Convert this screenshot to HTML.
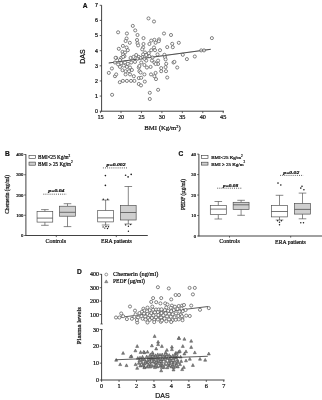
<!DOCTYPE html><html><head><meta charset="utf-8"><title>Figure</title>
<style>html,body{margin:0;padding:0;background:#fff;}body{width:322px;height:400px;overflow:hidden;}svg{display:block;filter:grayscale(1);}text{font-family:"Liberation Serif",serif;fill:#111;stroke:#111;stroke-width:0.22px;}.ss{font-family:"Liberation Sans",sans-serif;}</style></head><body>
<svg width="322" height="400" viewBox="0 0 322 400">
<rect width="322" height="400" fill="#fff"/>
<text x="82.70" y="7.90" font-size="6.60" text-anchor="start" class="ss" font-weight="bold" font-style="normal" fill="#111">A</text>
<line x1="101.60" y1="5.20" x2="101.60" y2="111.55" stroke="#383838" stroke-width="0.95" />
<line x1="101.30" y1="111.20" x2="224.00" y2="111.20" stroke="#383838" stroke-width="0.95" />
<line x1="99.70" y1="111.20" x2="101.60" y2="111.20" stroke="#383838" stroke-width="0.80" />
<text x="97.90" y="113.05" font-size="5.30" text-anchor="end" class="ss" font-weight="normal" font-style="normal" >0</text>
<line x1="99.70" y1="96.07" x2="101.60" y2="96.07" stroke="#383838" stroke-width="0.80" />
<text x="97.90" y="97.92" font-size="5.30" text-anchor="end" class="ss" font-weight="normal" font-style="normal" >1</text>
<line x1="99.70" y1="80.94" x2="101.60" y2="80.94" stroke="#383838" stroke-width="0.80" />
<text x="97.90" y="82.79" font-size="5.30" text-anchor="end" class="ss" font-weight="normal" font-style="normal" >2</text>
<line x1="99.70" y1="65.81" x2="101.60" y2="65.81" stroke="#383838" stroke-width="0.80" />
<text x="97.90" y="67.66" font-size="5.30" text-anchor="end" class="ss" font-weight="normal" font-style="normal" >3</text>
<line x1="99.70" y1="50.68" x2="101.60" y2="50.68" stroke="#383838" stroke-width="0.80" />
<text x="97.90" y="52.53" font-size="5.30" text-anchor="end" class="ss" font-weight="normal" font-style="normal" >4</text>
<line x1="99.70" y1="35.55" x2="101.60" y2="35.55" stroke="#383838" stroke-width="0.80" />
<text x="97.90" y="37.40" font-size="5.30" text-anchor="end" class="ss" font-weight="normal" font-style="normal" >5</text>
<line x1="99.70" y1="20.42" x2="101.60" y2="20.42" stroke="#383838" stroke-width="0.80" />
<text x="97.90" y="22.27" font-size="5.30" text-anchor="end" class="ss" font-weight="normal" font-style="normal" >6</text>
<line x1="99.70" y1="5.29" x2="101.60" y2="5.29" stroke="#383838" stroke-width="0.80" />
<text x="97.90" y="7.14" font-size="5.30" text-anchor="end" class="ss" font-weight="normal" font-style="normal" >7</text>
<line x1="100.60" y1="111.20" x2="100.60" y2="113.10" stroke="#383838" stroke-width="0.80" />
<text x="100.60" y="119.30" font-size="6.20" text-anchor="middle" class="" font-weight="normal" font-style="normal" >15</text>
<line x1="121.03" y1="111.20" x2="121.03" y2="113.10" stroke="#383838" stroke-width="0.80" />
<text x="121.03" y="119.30" font-size="6.20" text-anchor="middle" class="" font-weight="normal" font-style="normal" >20</text>
<line x1="141.47" y1="111.20" x2="141.47" y2="113.10" stroke="#383838" stroke-width="0.80" />
<text x="141.47" y="119.30" font-size="6.20" text-anchor="middle" class="" font-weight="normal" font-style="normal" >25</text>
<line x1="161.90" y1="111.20" x2="161.90" y2="113.10" stroke="#383838" stroke-width="0.80" />
<text x="161.90" y="119.30" font-size="6.20" text-anchor="middle" class="" font-weight="normal" font-style="normal" >30</text>
<line x1="182.34" y1="111.20" x2="182.34" y2="113.10" stroke="#383838" stroke-width="0.80" />
<text x="182.34" y="119.30" font-size="6.20" text-anchor="middle" class="" font-weight="normal" font-style="normal" >35</text>
<line x1="202.77" y1="111.20" x2="202.77" y2="113.10" stroke="#383838" stroke-width="0.80" />
<text x="202.77" y="119.30" font-size="6.20" text-anchor="middle" class="" font-weight="normal" font-style="normal" >40</text>
<line x1="223.21" y1="111.20" x2="223.21" y2="113.10" stroke="#383838" stroke-width="0.80" />
<text x="223.21" y="119.30" font-size="6.20" text-anchor="middle" class="" font-weight="normal" font-style="normal" >45</text>
<text x="144.3" y="130.4" font-size="6.75">BMI (Kg/m<tspan font-size="4.2" dy="-2.6">2</tspan><tspan dy="2.6">)</tspan></text>
<text transform="translate(84.9,56.6) rotate(-90)" font-size="7" text-anchor="middle" class="ss">DAS</text>
<line x1="108.75" y1="63.00" x2="210.70" y2="49.30" stroke="#333" stroke-width="0.80" />
<circle cx="118.1" cy="32.3" r="1.55" fill="#fff" stroke="#505050" stroke-width="0.7"/>
<circle cx="132.8" cy="25.9" r="1.55" fill="#fff" stroke="#505050" stroke-width="0.7"/>
<circle cx="135.2" cy="30.4" r="1.55" fill="#fff" stroke="#505050" stroke-width="0.7"/>
<circle cx="126.9" cy="33.5" r="1.55" fill="#fff" stroke="#505050" stroke-width="0.7"/>
<circle cx="137.5" cy="35.0" r="1.55" fill="#fff" stroke="#505050" stroke-width="0.7"/>
<circle cx="126.6" cy="38.5" r="1.55" fill="#fff" stroke="#505050" stroke-width="0.7"/>
<circle cx="125.6" cy="41.0" r="1.55" fill="#fff" stroke="#505050" stroke-width="0.7"/>
<circle cx="129.8" cy="42.8" r="1.55" fill="#fff" stroke="#505050" stroke-width="0.7"/>
<circle cx="137.0" cy="40.0" r="1.55" fill="#fff" stroke="#505050" stroke-width="0.7"/>
<circle cx="137.5" cy="43.1" r="1.55" fill="#fff" stroke="#505050" stroke-width="0.7"/>
<circle cx="138.1" cy="45.4" r="1.55" fill="#fff" stroke="#505050" stroke-width="0.7"/>
<circle cx="122.9" cy="45.9" r="1.55" fill="#fff" stroke="#505050" stroke-width="0.7"/>
<circle cx="118.8" cy="48.8" r="1.55" fill="#fff" stroke="#505050" stroke-width="0.7"/>
<circle cx="126.6" cy="47.5" r="1.55" fill="#fff" stroke="#505050" stroke-width="0.7"/>
<circle cx="127.8" cy="50.2" r="1.55" fill="#fff" stroke="#505050" stroke-width="0.7"/>
<circle cx="122.5" cy="51.9" r="1.55" fill="#fff" stroke="#505050" stroke-width="0.7"/>
<circle cx="125.0" cy="52.5" r="1.55" fill="#fff" stroke="#505050" stroke-width="0.7"/>
<circle cx="123.1" cy="54.4" r="1.55" fill="#fff" stroke="#505050" stroke-width="0.7"/>
<circle cx="116.2" cy="57.9" r="1.55" fill="#fff" stroke="#505050" stroke-width="0.7"/>
<circle cx="121.2" cy="57.9" r="1.55" fill="#fff" stroke="#505050" stroke-width="0.7"/>
<circle cx="124.4" cy="56.2" r="1.55" fill="#fff" stroke="#505050" stroke-width="0.7"/>
<circle cx="130.6" cy="57.9" r="1.55" fill="#fff" stroke="#505050" stroke-width="0.7"/>
<circle cx="133.5" cy="56.9" r="1.55" fill="#fff" stroke="#505050" stroke-width="0.7"/>
<circle cx="136.2" cy="55.0" r="1.55" fill="#fff" stroke="#505050" stroke-width="0.7"/>
<circle cx="138.8" cy="56.9" r="1.55" fill="#fff" stroke="#505050" stroke-width="0.7"/>
<circle cx="148.5" cy="18.4" r="1.55" fill="#fff" stroke="#505050" stroke-width="0.7"/>
<circle cx="154.0" cy="21.5" r="1.55" fill="#fff" stroke="#505050" stroke-width="0.7"/>
<circle cx="164.0" cy="33.5" r="1.55" fill="#fff" stroke="#505050" stroke-width="0.7"/>
<circle cx="171.0" cy="35.0" r="1.55" fill="#fff" stroke="#505050" stroke-width="0.7"/>
<circle cx="143.5" cy="38.1" r="1.55" fill="#fff" stroke="#505050" stroke-width="0.7"/>
<circle cx="154.4" cy="39.8" r="1.55" fill="#fff" stroke="#505050" stroke-width="0.7"/>
<circle cx="159.0" cy="39.4" r="1.55" fill="#fff" stroke="#505050" stroke-width="0.7"/>
<circle cx="158.8" cy="41.2" r="1.55" fill="#fff" stroke="#505050" stroke-width="0.7"/>
<circle cx="151.2" cy="40.6" r="1.55" fill="#fff" stroke="#505050" stroke-width="0.7"/>
<circle cx="155.6" cy="42.8" r="1.55" fill="#fff" stroke="#505050" stroke-width="0.7"/>
<circle cx="149.4" cy="44.0" r="1.55" fill="#fff" stroke="#505050" stroke-width="0.7"/>
<circle cx="143.5" cy="44.0" r="1.55" fill="#fff" stroke="#505050" stroke-width="0.7"/>
<circle cx="172.2" cy="43.8" r="1.55" fill="#fff" stroke="#505050" stroke-width="0.7"/>
<circle cx="178.8" cy="42.8" r="1.55" fill="#fff" stroke="#505050" stroke-width="0.7"/>
<circle cx="172.8" cy="47.2" r="1.55" fill="#fff" stroke="#505050" stroke-width="0.7"/>
<circle cx="167.2" cy="47.1" r="1.55" fill="#fff" stroke="#505050" stroke-width="0.7"/>
<circle cx="154.0" cy="47.5" r="1.55" fill="#fff" stroke="#505050" stroke-width="0.7"/>
<circle cx="143.1" cy="47.5" r="1.55" fill="#fff" stroke="#505050" stroke-width="0.7"/>
<circle cx="142.2" cy="49.4" r="1.55" fill="#fff" stroke="#505050" stroke-width="0.7"/>
<circle cx="151.2" cy="50.2" r="1.55" fill="#fff" stroke="#505050" stroke-width="0.7"/>
<circle cx="155.0" cy="50.2" r="1.55" fill="#fff" stroke="#505050" stroke-width="0.7"/>
<circle cx="160.0" cy="50.2" r="1.55" fill="#fff" stroke="#505050" stroke-width="0.7"/>
<circle cx="145.0" cy="52.5" r="1.55" fill="#fff" stroke="#505050" stroke-width="0.7"/>
<circle cx="148.8" cy="53.1" r="1.55" fill="#fff" stroke="#505050" stroke-width="0.7"/>
<circle cx="143.1" cy="54.4" r="1.55" fill="#fff" stroke="#505050" stroke-width="0.7"/>
<circle cx="146.2" cy="55.0" r="1.55" fill="#fff" stroke="#505050" stroke-width="0.7"/>
<circle cx="157.5" cy="54.4" r="1.55" fill="#fff" stroke="#505050" stroke-width="0.7"/>
<circle cx="164.4" cy="54.8" r="1.55" fill="#fff" stroke="#505050" stroke-width="0.7"/>
<circle cx="142.5" cy="57.2" r="1.55" fill="#fff" stroke="#505050" stroke-width="0.7"/>
<circle cx="149.4" cy="56.2" r="1.55" fill="#fff" stroke="#505050" stroke-width="0.7"/>
<circle cx="152.5" cy="57.5" r="1.55" fill="#fff" stroke="#505050" stroke-width="0.7"/>
<circle cx="165.0" cy="57.2" r="1.55" fill="#fff" stroke="#505050" stroke-width="0.7"/>
<circle cx="140.6" cy="58.1" r="1.55" fill="#fff" stroke="#505050" stroke-width="0.7"/>
<circle cx="211.9" cy="38.1" r="1.55" fill="#fff" stroke="#505050" stroke-width="0.7"/>
<circle cx="201.2" cy="50.4" r="1.55" fill="#fff" stroke="#505050" stroke-width="0.7"/>
<circle cx="204.0" cy="50.4" r="1.55" fill="#fff" stroke="#505050" stroke-width="0.7"/>
<circle cx="194.8" cy="56.5" r="1.55" fill="#fff" stroke="#505050" stroke-width="0.7"/>
<circle cx="182.8" cy="54.8" r="1.55" fill="#fff" stroke="#505050" stroke-width="0.7"/>
<circle cx="186.9" cy="59.1" r="1.55" fill="#fff" stroke="#505050" stroke-width="0.7"/>
<circle cx="112.1" cy="94.8" r="1.55" fill="#fff" stroke="#505050" stroke-width="0.7"/>
<circle cx="108.8" cy="72.9" r="1.55" fill="#fff" stroke="#505050" stroke-width="0.7"/>
<circle cx="111.9" cy="68.5" r="1.55" fill="#fff" stroke="#505050" stroke-width="0.7"/>
<circle cx="115.0" cy="76.2" r="1.55" fill="#fff" stroke="#505050" stroke-width="0.7"/>
<circle cx="116.2" cy="74.4" r="1.55" fill="#fff" stroke="#505050" stroke-width="0.7"/>
<circle cx="119.8" cy="82.2" r="1.55" fill="#fff" stroke="#505050" stroke-width="0.7"/>
<circle cx="122.9" cy="80.9" r="1.55" fill="#fff" stroke="#505050" stroke-width="0.7"/>
<circle cx="126.9" cy="80.9" r="1.55" fill="#fff" stroke="#505050" stroke-width="0.7"/>
<circle cx="131.0" cy="80.9" r="1.55" fill="#fff" stroke="#505050" stroke-width="0.7"/>
<circle cx="134.4" cy="80.9" r="1.55" fill="#fff" stroke="#505050" stroke-width="0.7"/>
<circle cx="138.8" cy="84.0" r="1.55" fill="#fff" stroke="#505050" stroke-width="0.7"/>
<circle cx="138.8" cy="78.1" r="1.55" fill="#fff" stroke="#505050" stroke-width="0.7"/>
<circle cx="133.8" cy="76.2" r="1.55" fill="#fff" stroke="#505050" stroke-width="0.7"/>
<circle cx="130.0" cy="74.4" r="1.55" fill="#fff" stroke="#505050" stroke-width="0.7"/>
<circle cx="125.6" cy="74.4" r="1.55" fill="#fff" stroke="#505050" stroke-width="0.7"/>
<circle cx="122.5" cy="70.2" r="1.55" fill="#fff" stroke="#505050" stroke-width="0.7"/>
<circle cx="125.6" cy="71.2" r="1.55" fill="#fff" stroke="#505050" stroke-width="0.7"/>
<circle cx="129.0" cy="71.2" r="1.55" fill="#fff" stroke="#505050" stroke-width="0.7"/>
<circle cx="131.9" cy="70.0" r="1.55" fill="#fff" stroke="#505050" stroke-width="0.7"/>
<circle cx="120.0" cy="66.9" r="1.55" fill="#fff" stroke="#505050" stroke-width="0.7"/>
<circle cx="123.8" cy="65.6" r="1.55" fill="#fff" stroke="#505050" stroke-width="0.7"/>
<circle cx="126.9" cy="66.9" r="1.55" fill="#fff" stroke="#505050" stroke-width="0.7"/>
<circle cx="130.0" cy="67.5" r="1.55" fill="#fff" stroke="#505050" stroke-width="0.7"/>
<circle cx="115.0" cy="62.5" r="1.55" fill="#fff" stroke="#505050" stroke-width="0.7"/>
<circle cx="115.6" cy="57.8" r="1.55" fill="#fff" stroke="#505050" stroke-width="0.7"/>
<circle cx="120.0" cy="60.0" r="1.55" fill="#fff" stroke="#505050" stroke-width="0.7"/>
<circle cx="123.1" cy="56.9" r="1.55" fill="#fff" stroke="#505050" stroke-width="0.7"/>
<circle cx="125.0" cy="62.5" r="1.55" fill="#fff" stroke="#505050" stroke-width="0.7"/>
<circle cx="135.0" cy="61.9" r="1.55" fill="#fff" stroke="#505050" stroke-width="0.7"/>
<circle cx="137.5" cy="58.8" r="1.55" fill="#fff" stroke="#505050" stroke-width="0.7"/>
<circle cx="138.8" cy="67.5" r="1.55" fill="#fff" stroke="#505050" stroke-width="0.7"/>
<circle cx="139.4" cy="71.2" r="1.55" fill="#fff" stroke="#505050" stroke-width="0.7"/>
<circle cx="121.2" cy="63.1" r="1.55" fill="#fff" stroke="#505050" stroke-width="0.7"/>
<circle cx="127.8" cy="63.8" r="1.55" fill="#fff" stroke="#505050" stroke-width="0.7"/>
<circle cx="131.2" cy="62.5" r="1.55" fill="#fff" stroke="#505050" stroke-width="0.7"/>
<circle cx="118.1" cy="64.4" r="1.55" fill="#fff" stroke="#505050" stroke-width="0.7"/>
<circle cx="149.8" cy="99.0" r="1.55" fill="#fff" stroke="#505050" stroke-width="0.7"/>
<circle cx="149.8" cy="92.8" r="1.55" fill="#fff" stroke="#505050" stroke-width="0.7"/>
<circle cx="158.1" cy="89.8" r="1.55" fill="#fff" stroke="#505050" stroke-width="0.7"/>
<circle cx="141.0" cy="85.4" r="1.55" fill="#fff" stroke="#505050" stroke-width="0.7"/>
<circle cx="144.8" cy="81.6" r="1.55" fill="#fff" stroke="#505050" stroke-width="0.7"/>
<circle cx="141.2" cy="77.8" r="1.55" fill="#fff" stroke="#505050" stroke-width="0.7"/>
<circle cx="144.4" cy="74.4" r="1.55" fill="#fff" stroke="#505050" stroke-width="0.7"/>
<circle cx="151.0" cy="74.4" r="1.55" fill="#fff" stroke="#505050" stroke-width="0.7"/>
<circle cx="155.6" cy="72.9" r="1.55" fill="#fff" stroke="#505050" stroke-width="0.7"/>
<circle cx="154.4" cy="76.2" r="1.55" fill="#fff" stroke="#505050" stroke-width="0.7"/>
<circle cx="156.0" cy="79.1" r="1.55" fill="#fff" stroke="#505050" stroke-width="0.7"/>
<circle cx="167.2" cy="77.5" r="1.55" fill="#fff" stroke="#505050" stroke-width="0.7"/>
<circle cx="161.2" cy="71.2" r="1.55" fill="#fff" stroke="#505050" stroke-width="0.7"/>
<circle cx="166.0" cy="71.2" r="1.55" fill="#fff" stroke="#505050" stroke-width="0.7"/>
<circle cx="161.2" cy="68.1" r="1.55" fill="#fff" stroke="#505050" stroke-width="0.7"/>
<circle cx="165.6" cy="67.1" r="1.55" fill="#fff" stroke="#505050" stroke-width="0.7"/>
<circle cx="166.2" cy="63.8" r="1.55" fill="#fff" stroke="#505050" stroke-width="0.7"/>
<circle cx="173.5" cy="62.5" r="1.55" fill="#fff" stroke="#505050" stroke-width="0.7"/>
<circle cx="165.6" cy="59.4" r="1.55" fill="#fff" stroke="#505050" stroke-width="0.7"/>
<circle cx="140.6" cy="72.5" r="1.55" fill="#fff" stroke="#505050" stroke-width="0.7"/>
<circle cx="139.4" cy="66.0" r="1.55" fill="#fff" stroke="#505050" stroke-width="0.7"/>
<circle cx="141.2" cy="62.5" r="1.55" fill="#fff" stroke="#505050" stroke-width="0.7"/>
<circle cx="144.4" cy="65.0" r="1.55" fill="#fff" stroke="#505050" stroke-width="0.7"/>
<circle cx="146.9" cy="67.5" r="1.55" fill="#fff" stroke="#505050" stroke-width="0.7"/>
<circle cx="150.6" cy="66.9" r="1.55" fill="#fff" stroke="#505050" stroke-width="0.7"/>
<circle cx="146.2" cy="60.6" r="1.55" fill="#fff" stroke="#505050" stroke-width="0.7"/>
<circle cx="151.9" cy="60.6" r="1.55" fill="#fff" stroke="#505050" stroke-width="0.7"/>
<circle cx="154.4" cy="62.5" r="1.55" fill="#fff" stroke="#505050" stroke-width="0.7"/>
<circle cx="158.1" cy="60.6" r="1.55" fill="#fff" stroke="#505050" stroke-width="0.7"/>
<circle cx="158.1" cy="64.0" r="1.55" fill="#fff" stroke="#505050" stroke-width="0.7"/>
<circle cx="155.6" cy="64.0" r="1.55" fill="#fff" stroke="#505050" stroke-width="0.7"/>
<circle cx="144.4" cy="58.8" r="1.55" fill="#fff" stroke="#505050" stroke-width="0.7"/>
<circle cx="174.4" cy="61.9" r="1.55" fill="#fff" stroke="#505050" stroke-width="0.7"/>
<circle cx="177.2" cy="67.5" r="1.55" fill="#fff" stroke="#505050" stroke-width="0.7"/>
<line x1="108.75" y1="63.00" x2="210.70" y2="49.30" stroke="#333" stroke-width="0.80" opacity="0.4"/>
<text x="4.90" y="155.70" font-size="6.60" text-anchor="start" class="ss" font-weight="bold" font-style="normal" fill="#111">B</text>
<line x1="25.90" y1="154.20" x2="25.90" y2="235.85" stroke="#383838" stroke-width="0.95" />
<line x1="25.60" y1="235.50" x2="147.80" y2="235.50" stroke="#383838" stroke-width="0.95" />
<line x1="24.20" y1="235.50" x2="25.90" y2="235.50" stroke="#383838" stroke-width="0.80" />
<text x="23.30" y="237.10" font-size="4.70" text-anchor="end" class="" font-weight="normal" font-style="normal" >0</text>
<line x1="24.20" y1="215.25" x2="25.90" y2="215.25" stroke="#383838" stroke-width="0.80" />
<text x="23.30" y="216.85" font-size="4.70" text-anchor="end" class="" font-weight="normal" font-style="normal" >100</text>
<line x1="24.20" y1="195.00" x2="25.90" y2="195.00" stroke="#383838" stroke-width="0.80" />
<text x="23.30" y="196.60" font-size="4.70" text-anchor="end" class="" font-weight="normal" font-style="normal" >200</text>
<line x1="24.20" y1="174.75" x2="25.90" y2="174.75" stroke="#383838" stroke-width="0.80" />
<text x="23.30" y="176.35" font-size="4.70" text-anchor="end" class="" font-weight="normal" font-style="normal" >300</text>
<line x1="24.20" y1="154.50" x2="25.90" y2="154.50" stroke="#383838" stroke-width="0.80" />
<text x="23.30" y="156.10" font-size="4.70" text-anchor="end" class="" font-weight="normal" font-style="normal" >400</text>
<line x1="56.30" y1="235.50" x2="56.30" y2="237.10" stroke="#383838" stroke-width="0.80" />
<line x1="116.30" y1="235.50" x2="116.30" y2="237.10" stroke="#383838" stroke-width="0.80" />
<text transform="translate(9.3,194.4) rotate(-90)" font-size="5.4" text-anchor="middle">Chemerin (ng/ml)</text>
<rect x="29" y="155.3" width="6.4" height="3.1" fill="#fff" stroke="#383838" stroke-width="0.6"/>
<rect x="29" y="162.1" width="6.4" height="3.1" fill="#cfcfcf" stroke="#383838" stroke-width="0.6"/>
<text x="38.1" y="158.8" font-size="5.1">BMI&lt;25 Kg/m<tspan font-size="3.4" dy="-2.2">2</tspan></text>
<text x="38.1" y="165.6" font-size="5.1">BMI ≥ 25 Kg/m<tspan font-size="3.4" dy="-2.2">2</tspan></text>
<line x1="44.90" y1="209.60" x2="44.90" y2="211.50" stroke="#484848" stroke-width="0.65" />
<line x1="44.90" y1="222.10" x2="44.90" y2="225.30" stroke="#484848" stroke-width="0.65" />
<line x1="41.10" y1="209.60" x2="48.70" y2="209.60" stroke="#484848" stroke-width="0.65" />
<line x1="41.10" y1="225.30" x2="48.70" y2="225.30" stroke="#484848" stroke-width="0.65" />
<rect x="37.05" y="211.50" width="15.70" height="10.60" fill="#fff" stroke="#484848" stroke-width="0.65"/>
<line x1="37.05" y1="218.10" x2="52.75" y2="218.10" stroke="#484848" stroke-width="0.75" />
<line x1="67.50" y1="203.70" x2="67.50" y2="206.20" stroke="#484848" stroke-width="0.65" />
<line x1="67.50" y1="216.20" x2="67.50" y2="226.60" stroke="#484848" stroke-width="0.65" />
<line x1="63.70" y1="203.70" x2="71.30" y2="203.70" stroke="#484848" stroke-width="0.65" />
<line x1="63.70" y1="226.60" x2="71.30" y2="226.60" stroke="#484848" stroke-width="0.65" />
<rect x="59.60" y="206.20" width="15.80" height="10.00" fill="#cfcfcf" stroke="#484848" stroke-width="0.65"/>
<line x1="59.60" y1="212.30" x2="75.40" y2="212.30" stroke="#484848" stroke-width="0.75" />
<line x1="105.60" y1="200.00" x2="105.60" y2="210.60" stroke="#484848" stroke-width="0.65" />
<line x1="105.60" y1="221.90" x2="105.60" y2="225.00" stroke="#484848" stroke-width="0.65" />
<line x1="101.80" y1="200.00" x2="109.40" y2="200.00" stroke="#484848" stroke-width="0.65" />
<line x1="101.80" y1="225.00" x2="109.40" y2="225.00" stroke="#484848" stroke-width="0.65" />
<rect x="97.70" y="210.60" width="15.80" height="11.30" fill="#fff" stroke="#484848" stroke-width="0.65"/>
<line x1="97.70" y1="217.90" x2="113.50" y2="217.90" stroke="#484848" stroke-width="0.75" />
<line x1="128.30" y1="186.50" x2="128.30" y2="205.60" stroke="#484848" stroke-width="0.65" />
<line x1="128.30" y1="220.00" x2="128.30" y2="224.00" stroke="#484848" stroke-width="0.65" />
<line x1="124.50" y1="186.50" x2="132.10" y2="186.50" stroke="#484848" stroke-width="0.65" />
<line x1="124.50" y1="224.00" x2="132.10" y2="224.00" stroke="#484848" stroke-width="0.65" />
<rect x="120.45" y="205.60" width="15.70" height="14.40" fill="#cfcfcf" stroke="#484848" stroke-width="0.65"/>
<line x1="120.45" y1="212.50" x2="136.15" y2="212.50" stroke="#484848" stroke-width="0.75" />
<text x="55.80" y="242.50" font-size="5.95" text-anchor="middle" class="" font-weight="normal" font-style="normal" >Controls</text>
<text x="116.50" y="242.70" font-size="5.80" text-anchor="middle" class="" font-weight="normal" font-style="normal" >ERA patients</text>
<text x="56.40" y="192.20" font-size="5.00" text-anchor="middle" class="" font-weight="bold" font-style="italic" textLength="16.2" lengthAdjust="spacingAndGlyphs">p=0.04</text>
<line x1="43.30" y1="194.20" x2="66.60" y2="194.20" stroke="#333" stroke-width="0.80" stroke-dasharray="1 1.1"/>
<text x="116.10" y="165.60" font-size="5.00" text-anchor="middle" class="" font-weight="bold" font-style="italic" textLength="19" lengthAdjust="spacingAndGlyphs">p=0.002</text>
<line x1="102.90" y1="167.90" x2="127.10" y2="167.90" stroke="#333" stroke-width="0.80" stroke-dasharray="1 1.1"/>
<circle cx="105.4" cy="175.6" r="0.82" fill="#1a1a1a"/>
<circle cx="105.4" cy="185.4" r="0.82" fill="#1a1a1a"/>
<circle cx="125.6" cy="175.3" r="0.82" fill="#1a1a1a"/>
<circle cx="128.1" cy="176.9" r="0.82" fill="#1a1a1a"/>
<circle cx="131.2" cy="174.4" r="0.82" fill="#1a1a1a"/>
<circle cx="103.3" cy="199.2" r="0.72" fill="#1a1a1a"/>
<circle cx="107.7" cy="199.2" r="0.72" fill="#1a1a1a"/>
<circle cx="103.1" cy="226.9" r="0.72" fill="#1a1a1a"/>
<circle cx="104.8" cy="228.1" r="0.72" fill="#1a1a1a"/>
<circle cx="107.5" cy="228.5" r="0.72" fill="#1a1a1a"/>
<circle cx="106.0" cy="226.5" r="0.72" fill="#1a1a1a"/>
<circle cx="108.5" cy="226.8" r="0.72" fill="#1a1a1a"/>
<circle cx="125.6" cy="224.9" r="0.72" fill="#1a1a1a"/>
<circle cx="130.6" cy="224.6" r="0.72" fill="#1a1a1a"/>
<circle cx="128.4" cy="226.2" r="0.72" fill="#1a1a1a"/>
<circle cx="128.4" cy="231.2" r="0.72" fill="#1a1a1a"/>
<text x="178.60" y="155.70" font-size="6.60" text-anchor="start" class="ss" font-weight="bold" font-style="normal" fill="#111">C</text>
<line x1="198.90" y1="154.00" x2="198.90" y2="236.35" stroke="#383838" stroke-width="0.95" />
<line x1="198.60" y1="236.00" x2="322.00" y2="236.00" stroke="#383838" stroke-width="0.95" />
<line x1="197.20" y1="236.00" x2="198.90" y2="236.00" stroke="#383838" stroke-width="0.80" />
<text x="196.00" y="237.60" font-size="4.70" text-anchor="end" class="" font-weight="normal" font-style="normal" >0</text>
<line x1="197.20" y1="215.53" x2="198.90" y2="215.53" stroke="#383838" stroke-width="0.80" />
<text x="196.00" y="217.13" font-size="4.70" text-anchor="end" class="" font-weight="normal" font-style="normal" >10</text>
<line x1="197.20" y1="195.06" x2="198.90" y2="195.06" stroke="#383838" stroke-width="0.80" />
<text x="196.00" y="196.66" font-size="4.70" text-anchor="end" class="" font-weight="normal" font-style="normal" >20</text>
<line x1="197.20" y1="174.59" x2="198.90" y2="174.59" stroke="#383838" stroke-width="0.80" />
<text x="196.00" y="176.19" font-size="4.70" text-anchor="end" class="" font-weight="normal" font-style="normal" >30</text>
<line x1="197.20" y1="154.12" x2="198.90" y2="154.12" stroke="#383838" stroke-width="0.80" />
<text x="196.00" y="155.72" font-size="4.70" text-anchor="end" class="" font-weight="normal" font-style="normal" >40</text>
<line x1="229.50" y1="236.00" x2="229.50" y2="237.60" stroke="#383838" stroke-width="0.80" />
<line x1="290.70" y1="236.00" x2="290.70" y2="237.60" stroke="#383838" stroke-width="0.80" />
<text transform="translate(185.3,194.5) rotate(-90)" font-size="5.4" text-anchor="middle">PEDF (µg/ml)</text>
<rect x="201.3" y="155.6" width="6.7" height="2.9" fill="#fff" stroke="#383838" stroke-width="0.6"/>
<rect x="201.3" y="162.2" width="6.7" height="2.9" fill="#cfcfcf" stroke="#383838" stroke-width="0.6"/>
<text x="211.2" y="158.8" font-size="5.0">BMI&lt;25 Kg/m<tspan font-size="3.3" dy="-2.1">2</tspan></text>
<text x="211.2" y="165.5" font-size="5.0">BMI ≥ 25 Kg/m<tspan font-size="3.3" dy="-2.1">2</tspan></text>
<line x1="218.30" y1="201.50" x2="218.30" y2="205.60" stroke="#484848" stroke-width="0.65" />
<line x1="218.30" y1="214.60" x2="218.30" y2="219.00" stroke="#484848" stroke-width="0.65" />
<line x1="214.50" y1="201.50" x2="222.10" y2="201.50" stroke="#484848" stroke-width="0.65" />
<line x1="214.50" y1="219.00" x2="222.10" y2="219.00" stroke="#484848" stroke-width="0.65" />
<rect x="210.30" y="205.60" width="16.00" height="9.00" fill="#fff" stroke="#484848" stroke-width="0.65"/>
<line x1="210.30" y1="209.10" x2="226.30" y2="209.10" stroke="#484848" stroke-width="0.75" />
<line x1="241.10" y1="200.30" x2="241.10" y2="202.30" stroke="#484848" stroke-width="0.65" />
<line x1="241.10" y1="209.40" x2="241.10" y2="215.30" stroke="#484848" stroke-width="0.65" />
<line x1="237.30" y1="200.30" x2="244.90" y2="200.30" stroke="#484848" stroke-width="0.65" />
<line x1="237.30" y1="215.30" x2="244.90" y2="215.30" stroke="#484848" stroke-width="0.65" />
<rect x="233.15" y="202.30" width="15.90" height="7.10" fill="#cfcfcf" stroke="#484848" stroke-width="0.65"/>
<line x1="233.15" y1="204.80" x2="249.05" y2="204.80" stroke="#484848" stroke-width="0.75" />
<line x1="279.50" y1="195.30" x2="279.50" y2="205.40" stroke="#484848" stroke-width="0.65" />
<line x1="279.50" y1="216.90" x2="279.50" y2="220.00" stroke="#484848" stroke-width="0.65" />
<line x1="275.70" y1="195.30" x2="283.30" y2="195.30" stroke="#484848" stroke-width="0.65" />
<line x1="275.70" y1="220.00" x2="283.30" y2="220.00" stroke="#484848" stroke-width="0.65" />
<rect x="271.40" y="205.40" width="16.20" height="11.50" fill="#fff" stroke="#484848" stroke-width="0.65"/>
<line x1="271.40" y1="211.50" x2="287.60" y2="211.50" stroke="#484848" stroke-width="0.75" />
<line x1="302.50" y1="193.10" x2="302.50" y2="203.60" stroke="#484848" stroke-width="0.65" />
<line x1="302.50" y1="214.10" x2="302.50" y2="218.80" stroke="#484848" stroke-width="0.65" />
<line x1="298.70" y1="193.10" x2="306.30" y2="193.10" stroke="#484848" stroke-width="0.65" />
<line x1="298.70" y1="218.80" x2="306.30" y2="218.80" stroke="#484848" stroke-width="0.65" />
<rect x="294.50" y="203.60" width="16.00" height="10.50" fill="#cfcfcf" stroke="#484848" stroke-width="0.65"/>
<line x1="294.50" y1="209.40" x2="310.50" y2="209.40" stroke="#484848" stroke-width="0.75" />
<text x="229.50" y="243.40" font-size="5.95" text-anchor="middle" class="" font-weight="normal" font-style="normal" >Controls</text>
<text x="290.50" y="243.60" font-size="5.80" text-anchor="middle" class="" font-weight="normal" font-style="normal" >ERA patients</text>
<text x="230.60" y="186.90" font-size="5.00" text-anchor="middle" class="" font-weight="bold" font-style="italic" textLength="15.2" lengthAdjust="spacingAndGlyphs">p=0.08</text>
<line x1="217.20" y1="188.20" x2="241.30" y2="188.20" stroke="#333" stroke-width="0.80" stroke-dasharray="1 1.1"/>
<text x="291.30" y="173.60" font-size="5.00" text-anchor="middle" class="" font-weight="bold" font-style="italic" textLength="16" lengthAdjust="spacingAndGlyphs">p=0.02</text>
<line x1="280.10" y1="175.40" x2="303.30" y2="175.40" stroke="#333" stroke-width="0.80" stroke-dasharray="1 1.1"/>
<circle cx="278.0" cy="183.1" r="0.82" fill="#1a1a1a"/>
<circle cx="280.8" cy="185.0" r="0.82" fill="#1a1a1a"/>
<circle cx="302.0" cy="186.2" r="0.82" fill="#1a1a1a"/>
<circle cx="300.8" cy="188.1" r="0.82" fill="#1a1a1a"/>
<circle cx="303.9" cy="189.8" r="0.82" fill="#1a1a1a"/>
<circle cx="277.6" cy="220.8" r="0.72" fill="#1a1a1a"/>
<circle cx="281.4" cy="220.8" r="0.72" fill="#1a1a1a"/>
<circle cx="279.5" cy="222.3" r="0.72" fill="#1a1a1a"/>
<circle cx="279.5" cy="224.8" r="0.72" fill="#1a1a1a"/>
<circle cx="300.8" cy="222.8" r="0.72" fill="#1a1a1a"/>
<circle cx="303.5" cy="222.8" r="0.72" fill="#1a1a1a"/>
<text x="77.00" y="274.20" font-size="6.60" text-anchor="start" class="ss" font-weight="bold" font-style="normal" fill="#111">D</text>
<line x1="101.60" y1="274.00" x2="101.60" y2="324.00" stroke="#383838" stroke-width="0.95" />
<line x1="100.40" y1="324.00" x2="102.80" y2="324.00" stroke="#383838" stroke-width="0.70" />
<line x1="101.60" y1="329.50" x2="101.60" y2="380.40" stroke="#383838" stroke-width="0.95" />
<line x1="100.40" y1="329.60" x2="102.80" y2="329.60" stroke="#383838" stroke-width="0.70" />
<line x1="101.20" y1="380.00" x2="224.60" y2="380.00" stroke="#383838" stroke-width="0.95" />
<line x1="99.70" y1="274.30" x2="101.60" y2="274.30" stroke="#383838" stroke-width="0.80" />
<text x="98.90" y="276.40" font-size="6.00" text-anchor="end" class="" font-weight="normal" font-style="normal" >400</text>
<line x1="99.70" y1="287.70" x2="101.60" y2="287.70" stroke="#383838" stroke-width="0.80" />
<text x="98.90" y="289.80" font-size="6.00" text-anchor="end" class="" font-weight="normal" font-style="normal" >300</text>
<line x1="99.70" y1="301.10" x2="101.60" y2="301.10" stroke="#383838" stroke-width="0.80" />
<text x="98.90" y="303.20" font-size="6.00" text-anchor="end" class="" font-weight="normal" font-style="normal" >200</text>
<line x1="99.70" y1="314.50" x2="101.60" y2="314.50" stroke="#383838" stroke-width="0.80" />
<text x="98.90" y="316.60" font-size="6.00" text-anchor="end" class="" font-weight="normal" font-style="normal" >100</text>
<line x1="99.70" y1="380.00" x2="101.60" y2="380.00" stroke="#383838" stroke-width="0.80" />
<text x="98.90" y="382.10" font-size="6.00" text-anchor="end" class="" font-weight="normal" font-style="normal" >0</text>
<line x1="99.70" y1="363.15" x2="101.60" y2="363.15" stroke="#383838" stroke-width="0.80" />
<text x="98.90" y="365.25" font-size="6.00" text-anchor="end" class="" font-weight="normal" font-style="normal" >10</text>
<line x1="99.70" y1="346.30" x2="101.60" y2="346.30" stroke="#383838" stroke-width="0.80" />
<text x="98.90" y="348.40" font-size="6.00" text-anchor="end" class="" font-weight="normal" font-style="normal" >20</text>
<line x1="99.70" y1="329.45" x2="101.60" y2="329.45" stroke="#383838" stroke-width="0.80" />
<text x="98.90" y="331.55" font-size="6.00" text-anchor="end" class="" font-weight="normal" font-style="normal" >30</text>
<line x1="101.60" y1="380.00" x2="101.60" y2="381.90" stroke="#383838" stroke-width="0.80" />
<text x="101.60" y="388.20" font-size="6.20" text-anchor="middle" class="" font-weight="normal" font-style="normal" >0</text>
<line x1="119.05" y1="380.00" x2="119.05" y2="381.90" stroke="#383838" stroke-width="0.80" />
<text x="119.05" y="388.20" font-size="6.20" text-anchor="middle" class="" font-weight="normal" font-style="normal" >1</text>
<line x1="136.50" y1="380.00" x2="136.50" y2="381.90" stroke="#383838" stroke-width="0.80" />
<text x="136.50" y="388.20" font-size="6.20" text-anchor="middle" class="" font-weight="normal" font-style="normal" >2</text>
<line x1="153.95" y1="380.00" x2="153.95" y2="381.90" stroke="#383838" stroke-width="0.80" />
<text x="153.95" y="388.20" font-size="6.20" text-anchor="middle" class="" font-weight="normal" font-style="normal" >3</text>
<line x1="171.40" y1="380.00" x2="171.40" y2="381.90" stroke="#383838" stroke-width="0.80" />
<text x="171.40" y="388.20" font-size="6.20" text-anchor="middle" class="" font-weight="normal" font-style="normal" >4</text>
<line x1="188.85" y1="380.00" x2="188.85" y2="381.90" stroke="#383838" stroke-width="0.80" />
<text x="188.85" y="388.20" font-size="6.20" text-anchor="middle" class="" font-weight="normal" font-style="normal" >5</text>
<line x1="206.30" y1="380.00" x2="206.30" y2="381.90" stroke="#383838" stroke-width="0.80" />
<text x="206.30" y="388.20" font-size="6.20" text-anchor="middle" class="" font-weight="normal" font-style="normal" >6</text>
<line x1="223.75" y1="380.00" x2="223.75" y2="381.90" stroke="#383838" stroke-width="0.80" />
<text x="223.75" y="388.20" font-size="6.20" text-anchor="middle" class="" font-weight="normal" font-style="normal" >7</text>
<text x="162.40" y="398.10" font-size="7.00" text-anchor="middle" class="ss" font-weight="normal" font-style="normal" >DAS</text>
<text transform="translate(80.6,325.6) rotate(-90)" font-size="6.8" text-anchor="middle">Plasma levels</text>
<circle cx="106.3" cy="274.5" r="1.4" fill="#fff" stroke="#555" stroke-width="0.6"/>
<path d="M106.3 279.9 L107.9 282.7 L104.7 282.7 Z" fill="#999" stroke="#555" stroke-width="0.5"/>
<text x="113.00" y="276.30" font-size="6.30" text-anchor="start" class="" font-weight="normal" font-style="normal" >Chemerin (ng/ml)</text>
<text x="113.00" y="283.40" font-size="5.50" text-anchor="start" class="" font-weight="normal" font-style="normal" >PEDF (µg/ml)</text>
<line x1="115.60" y1="317.90" x2="208.10" y2="306.50" stroke="#333" stroke-width="0.80" />
<circle cx="152.3" cy="306.6" r="1.55" fill="#fff" stroke="#505050" stroke-width="0.7"/>
<circle cx="147.5" cy="307.6" r="1.55" fill="#fff" stroke="#505050" stroke-width="0.7"/>
<circle cx="143.4" cy="308.7" r="1.55" fill="#fff" stroke="#505050" stroke-width="0.7"/>
<circle cx="156.0" cy="309.5" r="1.55" fill="#fff" stroke="#505050" stroke-width="0.7"/>
<circle cx="158.7" cy="309.5" r="1.55" fill="#fff" stroke="#505050" stroke-width="0.7"/>
<circle cx="161.3" cy="310.2" r="1.55" fill="#fff" stroke="#505050" stroke-width="0.7"/>
<circle cx="153.1" cy="309.8" r="1.55" fill="#fff" stroke="#505050" stroke-width="0.7"/>
<circle cx="149.7" cy="310.2" r="1.55" fill="#fff" stroke="#505050" stroke-width="0.7"/>
<circle cx="144.5" cy="310.6" r="1.55" fill="#fff" stroke="#505050" stroke-width="0.7"/>
<circle cx="147.1" cy="311.3" r="1.55" fill="#fff" stroke="#505050" stroke-width="0.7"/>
<circle cx="141.9" cy="311.7" r="1.55" fill="#fff" stroke="#505050" stroke-width="0.7"/>
<circle cx="157.9" cy="312.1" r="1.55" fill="#fff" stroke="#505050" stroke-width="0.7"/>
<circle cx="154.9" cy="312.4" r="1.55" fill="#fff" stroke="#505050" stroke-width="0.7"/>
<circle cx="161.6" cy="313.2" r="1.55" fill="#fff" stroke="#505050" stroke-width="0.7"/>
<circle cx="151.2" cy="313.2" r="1.55" fill="#fff" stroke="#505050" stroke-width="0.7"/>
<circle cx="144.1" cy="313.6" r="1.55" fill="#fff" stroke="#505050" stroke-width="0.7"/>
<circle cx="147.5" cy="313.9" r="1.55" fill="#fff" stroke="#505050" stroke-width="0.7"/>
<circle cx="158.3" cy="315.1" r="1.55" fill="#fff" stroke="#505050" stroke-width="0.7"/>
<circle cx="153.4" cy="315.4" r="1.55" fill="#fff" stroke="#505050" stroke-width="0.7"/>
<circle cx="149.7" cy="315.4" r="1.55" fill="#fff" stroke="#505050" stroke-width="0.7"/>
<circle cx="162.4" cy="315.8" r="1.55" fill="#fff" stroke="#505050" stroke-width="0.7"/>
<circle cx="141.5" cy="316.2" r="1.55" fill="#fff" stroke="#505050" stroke-width="0.7"/>
<circle cx="145.2" cy="316.6" r="1.55" fill="#fff" stroke="#505050" stroke-width="0.7"/>
<circle cx="156.0" cy="317.3" r="1.55" fill="#fff" stroke="#505050" stroke-width="0.7"/>
<circle cx="160.1" cy="317.7" r="1.55" fill="#fff" stroke="#505050" stroke-width="0.7"/>
<circle cx="148.2" cy="318.0" r="1.55" fill="#fff" stroke="#505050" stroke-width="0.7"/>
<circle cx="151.9" cy="318.0" r="1.55" fill="#fff" stroke="#505050" stroke-width="0.7"/>
<circle cx="142.6" cy="318.8" r="1.55" fill="#fff" stroke="#505050" stroke-width="0.7"/>
<circle cx="145.6" cy="319.5" r="1.55" fill="#fff" stroke="#505050" stroke-width="0.7"/>
<circle cx="157.9" cy="319.5" r="1.55" fill="#fff" stroke="#505050" stroke-width="0.7"/>
<circle cx="149.7" cy="319.9" r="1.55" fill="#fff" stroke="#505050" stroke-width="0.7"/>
<circle cx="154.2" cy="319.9" r="1.55" fill="#fff" stroke="#505050" stroke-width="0.7"/>
<circle cx="162.0" cy="319.9" r="1.55" fill="#fff" stroke="#505050" stroke-width="0.7"/>
<circle cx="147.5" cy="322.5" r="1.55" fill="#fff" stroke="#505050" stroke-width="0.7"/>
<circle cx="154.2" cy="322.1" r="1.55" fill="#fff" stroke="#505050" stroke-width="0.7"/>
<circle cx="160.9" cy="321.8" r="1.55" fill="#fff" stroke="#505050" stroke-width="0.7"/>
<circle cx="165.2" cy="303.4" r="1.55" fill="#fff" stroke="#505050" stroke-width="0.7"/>
<circle cx="160.4" cy="303.4" r="1.55" fill="#fff" stroke="#505050" stroke-width="0.7"/>
<circle cx="167.5" cy="304.5" r="1.55" fill="#fff" stroke="#505050" stroke-width="0.7"/>
<circle cx="171.9" cy="305.6" r="1.55" fill="#fff" stroke="#505050" stroke-width="0.7"/>
<circle cx="174.9" cy="306.7" r="1.55" fill="#fff" stroke="#505050" stroke-width="0.7"/>
<circle cx="178.7" cy="306.0" r="1.55" fill="#fff" stroke="#505050" stroke-width="0.7"/>
<circle cx="182.0" cy="305.6" r="1.55" fill="#fff" stroke="#505050" stroke-width="0.7"/>
<circle cx="166.3" cy="307.5" r="1.55" fill="#fff" stroke="#505050" stroke-width="0.7"/>
<circle cx="170.8" cy="307.8" r="1.55" fill="#fff" stroke="#505050" stroke-width="0.7"/>
<circle cx="181.6" cy="308.6" r="1.55" fill="#fff" stroke="#505050" stroke-width="0.7"/>
<circle cx="177.5" cy="309.0" r="1.55" fill="#fff" stroke="#505050" stroke-width="0.7"/>
<circle cx="161.5" cy="309.3" r="1.55" fill="#fff" stroke="#505050" stroke-width="0.7"/>
<circle cx="164.9" cy="310.1" r="1.55" fill="#fff" stroke="#505050" stroke-width="0.7"/>
<circle cx="173.8" cy="310.1" r="1.55" fill="#fff" stroke="#505050" stroke-width="0.7"/>
<circle cx="168.2" cy="310.8" r="1.55" fill="#fff" stroke="#505050" stroke-width="0.7"/>
<circle cx="171.2" cy="311.2" r="1.55" fill="#fff" stroke="#505050" stroke-width="0.7"/>
<circle cx="182.8" cy="311.2" r="1.55" fill="#fff" stroke="#505050" stroke-width="0.7"/>
<circle cx="179.4" cy="311.6" r="1.55" fill="#fff" stroke="#505050" stroke-width="0.7"/>
<circle cx="161.5" cy="313.1" r="1.55" fill="#fff" stroke="#505050" stroke-width="0.7"/>
<circle cx="165.6" cy="313.4" r="1.55" fill="#fff" stroke="#505050" stroke-width="0.7"/>
<circle cx="176.0" cy="313.4" r="1.55" fill="#fff" stroke="#505050" stroke-width="0.7"/>
<circle cx="169.0" cy="313.8" r="1.55" fill="#fff" stroke="#505050" stroke-width="0.7"/>
<circle cx="172.7" cy="314.2" r="1.55" fill="#fff" stroke="#505050" stroke-width="0.7"/>
<circle cx="180.9" cy="314.6" r="1.55" fill="#fff" stroke="#505050" stroke-width="0.7"/>
<circle cx="163.4" cy="315.3" r="1.55" fill="#fff" stroke="#505050" stroke-width="0.7"/>
<circle cx="178.3" cy="316.0" r="1.55" fill="#fff" stroke="#505050" stroke-width="0.7"/>
<circle cx="167.1" cy="316.4" r="1.55" fill="#fff" stroke="#505050" stroke-width="0.7"/>
<circle cx="170.8" cy="316.8" r="1.55" fill="#fff" stroke="#505050" stroke-width="0.7"/>
<circle cx="174.6" cy="317.2" r="1.55" fill="#fff" stroke="#505050" stroke-width="0.7"/>
<circle cx="161.1" cy="317.5" r="1.55" fill="#fff" stroke="#505050" stroke-width="0.7"/>
<circle cx="182.4" cy="317.9" r="1.55" fill="#fff" stroke="#505050" stroke-width="0.7"/>
<circle cx="164.5" cy="318.7" r="1.55" fill="#fff" stroke="#505050" stroke-width="0.7"/>
<circle cx="169.0" cy="319.4" r="1.55" fill="#fff" stroke="#505050" stroke-width="0.7"/>
<circle cx="178.7" cy="319.4" r="1.55" fill="#fff" stroke="#505050" stroke-width="0.7"/>
<circle cx="172.7" cy="320.1" r="1.55" fill="#fff" stroke="#505050" stroke-width="0.7"/>
<circle cx="175.7" cy="319.8" r="1.55" fill="#fff" stroke="#505050" stroke-width="0.7"/>
<circle cx="161.9" cy="320.5" r="1.55" fill="#fff" stroke="#505050" stroke-width="0.7"/>
<circle cx="166.3" cy="321.3" r="1.55" fill="#fff" stroke="#505050" stroke-width="0.7"/>
<circle cx="171.2" cy="322.0" r="1.55" fill="#fff" stroke="#505050" stroke-width="0.7"/>
<circle cx="130.0" cy="306.5" r="1.55" fill="#fff" stroke="#505050" stroke-width="0.7"/>
<circle cx="121.2" cy="313.5" r="1.55" fill="#fff" stroke="#505050" stroke-width="0.7"/>
<circle cx="116.0" cy="317.5" r="1.55" fill="#fff" stroke="#505050" stroke-width="0.7"/>
<circle cx="119.4" cy="317.5" r="1.55" fill="#fff" stroke="#505050" stroke-width="0.7"/>
<circle cx="123.1" cy="316.2" r="1.55" fill="#fff" stroke="#505050" stroke-width="0.7"/>
<circle cx="126.9" cy="319.1" r="1.55" fill="#fff" stroke="#505050" stroke-width="0.7"/>
<circle cx="131.9" cy="318.8" r="1.55" fill="#fff" stroke="#505050" stroke-width="0.7"/>
<circle cx="135.0" cy="310.6" r="1.55" fill="#fff" stroke="#505050" stroke-width="0.7"/>
<circle cx="135.6" cy="314.4" r="1.55" fill="#fff" stroke="#505050" stroke-width="0.7"/>
<circle cx="137.2" cy="322.5" r="1.55" fill="#fff" stroke="#505050" stroke-width="0.7"/>
<circle cx="138.1" cy="317.5" r="1.55" fill="#fff" stroke="#505050" stroke-width="0.7"/>
<circle cx="139.4" cy="313.1" r="1.55" fill="#fff" stroke="#505050" stroke-width="0.7"/>
<circle cx="136.9" cy="320.0" r="1.55" fill="#fff" stroke="#505050" stroke-width="0.7"/>
<circle cx="134.4" cy="316.9" r="1.55" fill="#fff" stroke="#505050" stroke-width="0.7"/>
<circle cx="157.9" cy="287.2" r="1.55" fill="#fff" stroke="#505050" stroke-width="0.7"/>
<circle cx="168.8" cy="288.4" r="1.55" fill="#fff" stroke="#505050" stroke-width="0.7"/>
<circle cx="175.6" cy="295.0" r="1.55" fill="#fff" stroke="#505050" stroke-width="0.7"/>
<circle cx="179.0" cy="295.0" r="1.55" fill="#fff" stroke="#505050" stroke-width="0.7"/>
<circle cx="153.1" cy="298.1" r="1.55" fill="#fff" stroke="#505050" stroke-width="0.7"/>
<circle cx="161.2" cy="298.1" r="1.55" fill="#fff" stroke="#505050" stroke-width="0.7"/>
<circle cx="171.2" cy="299.4" r="1.55" fill="#fff" stroke="#505050" stroke-width="0.7"/>
<circle cx="151.2" cy="301.9" r="1.55" fill="#fff" stroke="#505050" stroke-width="0.7"/>
<circle cx="156.2" cy="302.2" r="1.55" fill="#fff" stroke="#505050" stroke-width="0.7"/>
<circle cx="189.6" cy="287.9" r="1.55" fill="#fff" stroke="#505050" stroke-width="0.7"/>
<circle cx="194.8" cy="287.9" r="1.55" fill="#fff" stroke="#505050" stroke-width="0.7"/>
<circle cx="192.9" cy="294.4" r="1.55" fill="#fff" stroke="#505050" stroke-width="0.7"/>
<circle cx="191.2" cy="305.6" r="1.55" fill="#fff" stroke="#505050" stroke-width="0.7"/>
<circle cx="200.0" cy="309.8" r="1.55" fill="#fff" stroke="#505050" stroke-width="0.7"/>
<circle cx="208.8" cy="308.1" r="1.55" fill="#fff" stroke="#505050" stroke-width="0.7"/>
<circle cx="184.0" cy="305.0" r="1.55" fill="#fff" stroke="#505050" stroke-width="0.7"/>
<circle cx="185.6" cy="310.0" r="1.55" fill="#fff" stroke="#505050" stroke-width="0.7"/>
<circle cx="181.9" cy="316.2" r="1.55" fill="#fff" stroke="#505050" stroke-width="0.7"/>
<circle cx="186.2" cy="315.6" r="1.55" fill="#fff" stroke="#505050" stroke-width="0.7"/>
<circle cx="189.8" cy="316.0" r="1.55" fill="#fff" stroke="#505050" stroke-width="0.7"/>
<circle cx="182.5" cy="320.2" r="1.55" fill="#fff" stroke="#505050" stroke-width="0.7"/>
<path d="M137.2 344.6 l1.5 2.8 l-3 0 Z" fill="#858585" stroke="#4a4a4a" stroke-width="0.5"/>
<path d="M135.4 349.0 l1.5 2.8 l-3 0 Z" fill="#858585" stroke="#4a4a4a" stroke-width="0.5"/>
<path d="M123.1 351.5 l1.5 2.8 l-3 0 Z" fill="#858585" stroke="#4a4a4a" stroke-width="0.5"/>
<path d="M140.6 350.6 l1.5 2.8 l-3 0 Z" fill="#858585" stroke="#4a4a4a" stroke-width="0.5"/>
<path d="M131.5 354.6 l1.5 2.8 l-3 0 Z" fill="#858585" stroke="#4a4a4a" stroke-width="0.5"/>
<path d="M130.6 355.0 l1.5 2.8 l-3 0 Z" fill="#858585" stroke="#4a4a4a" stroke-width="0.5"/>
<path d="M116.2 358.4 l1.5 2.8 l-3 0 Z" fill="#858585" stroke="#4a4a4a" stroke-width="0.5"/>
<path d="M120.2 362.8 l1.5 2.8 l-3 0 Z" fill="#858585" stroke="#4a4a4a" stroke-width="0.5"/>
<path d="M126.5 363.8 l1.5 2.8 l-3 0 Z" fill="#858585" stroke="#4a4a4a" stroke-width="0.5"/>
<path d="M135.6 362.8 l1.5 2.8 l-3 0 Z" fill="#858585" stroke="#4a4a4a" stroke-width="0.5"/>
<path d="M137.2 366.5 l1.5 2.8 l-3 0 Z" fill="#858585" stroke="#4a4a4a" stroke-width="0.5"/>
<path d="M138.8 361.5 l1.5 2.8 l-3 0 Z" fill="#858585" stroke="#4a4a4a" stroke-width="0.5"/>
<path d="M141.9 360.9 l1.5 2.8 l-3 0 Z" fill="#858585" stroke="#4a4a4a" stroke-width="0.5"/>
<path d="M142.5 355.3 l1.5 2.8 l-3 0 Z" fill="#858585" stroke="#4a4a4a" stroke-width="0.5"/>
<path d="M144.4 357.8 l1.5 2.8 l-3 0 Z" fill="#858585" stroke="#4a4a4a" stroke-width="0.5"/>
<path d="M144.4 365.3 l1.5 2.8 l-3 0 Z" fill="#858585" stroke="#4a4a4a" stroke-width="0.5"/>
<path d="M137.8 356.5 l1.5 2.8 l-3 0 Z" fill="#858585" stroke="#4a4a4a" stroke-width="0.5"/>
<path d="M144.4 350.9 l1.5 2.8 l-3 0 Z" fill="#858585" stroke="#4a4a4a" stroke-width="0.5"/>
<path d="M154.6 334.6 l1.5 2.8 l-3 0 Z" fill="#858585" stroke="#4a4a4a" stroke-width="0.5"/>
<path d="M178.8 336.5 l1.5 2.8 l-3 0 Z" fill="#858585" stroke="#4a4a4a" stroke-width="0.5"/>
<path d="M158.1 340.3 l1.5 2.8 l-3 0 Z" fill="#858585" stroke="#4a4a4a" stroke-width="0.5"/>
<path d="M158.1 342.8 l1.5 2.8 l-3 0 Z" fill="#858585" stroke="#4a4a4a" stroke-width="0.5"/>
<path d="M151.9 344.0 l1.5 2.8 l-3 0 Z" fill="#858585" stroke="#4a4a4a" stroke-width="0.5"/>
<path d="M161.9 344.6 l1.5 2.8 l-3 0 Z" fill="#858585" stroke="#4a4a4a" stroke-width="0.5"/>
<path d="M171.9 345.3 l1.5 2.8 l-3 0 Z" fill="#858585" stroke="#4a4a4a" stroke-width="0.5"/>
<path d="M171.9 347.8 l1.5 2.8 l-3 0 Z" fill="#858585" stroke="#4a4a4a" stroke-width="0.5"/>
<path d="M156.2 347.1 l1.5 2.8 l-3 0 Z" fill="#858585" stroke="#4a4a4a" stroke-width="0.5"/>
<path d="M166.9 348.4 l1.5 2.8 l-3 0 Z" fill="#858585" stroke="#4a4a4a" stroke-width="0.5"/>
<path d="M165.6 350.9 l1.5 2.8 l-3 0 Z" fill="#858585" stroke="#4a4a4a" stroke-width="0.5"/>
<path d="M147.5 350.3 l1.5 2.8 l-3 0 Z" fill="#858585" stroke="#4a4a4a" stroke-width="0.5"/>
<path d="M152.5 350.9 l1.5 2.8 l-3 0 Z" fill="#858585" stroke="#4a4a4a" stroke-width="0.5"/>
<path d="M143.8 350.3 l1.5 2.8 l-3 0 Z" fill="#858585" stroke="#4a4a4a" stroke-width="0.5"/>
<path d="M175.6 351.5 l1.5 2.8 l-3 0 Z" fill="#858585" stroke="#4a4a4a" stroke-width="0.5"/>
<path d="M178.8 350.3 l1.5 2.8 l-3 0 Z" fill="#858585" stroke="#4a4a4a" stroke-width="0.5"/>
<path d="M161.2 369.0 l1.5 2.8 l-3 0 Z" fill="#858585" stroke="#4a4a4a" stroke-width="0.5"/>
<path d="M173.5 368.1 l1.5 2.8 l-3 0 Z" fill="#858585" stroke="#4a4a4a" stroke-width="0.5"/>
<path d="M144.4 365.9 l1.5 2.8 l-3 0 Z" fill="#858585" stroke="#4a4a4a" stroke-width="0.5"/>
<path d="M179.0 336.5 l1.5 2.8 l-3 0 Z" fill="#858585" stroke="#4a4a4a" stroke-width="0.5"/>
<path d="M184.4 337.4 l1.5 2.8 l-3 0 Z" fill="#858585" stroke="#4a4a4a" stroke-width="0.5"/>
<path d="M191.2 339.4 l1.5 2.8 l-3 0 Z" fill="#858585" stroke="#4a4a4a" stroke-width="0.5"/>
<path d="M182.8 344.6 l1.5 2.8 l-3 0 Z" fill="#858585" stroke="#4a4a4a" stroke-width="0.5"/>
<path d="M191.2 345.6 l1.5 2.8 l-3 0 Z" fill="#858585" stroke="#4a4a4a" stroke-width="0.5"/>
<path d="M179.8 349.6 l1.5 2.8 l-3 0 Z" fill="#858585" stroke="#4a4a4a" stroke-width="0.5"/>
<path d="M186.0 349.9 l1.5 2.8 l-3 0 Z" fill="#858585" stroke="#4a4a4a" stroke-width="0.5"/>
<path d="M194.8 350.9 l1.5 2.8 l-3 0 Z" fill="#858585" stroke="#4a4a4a" stroke-width="0.5"/>
<path d="M208.8 352.1 l1.5 2.8 l-3 0 Z" fill="#858585" stroke="#4a4a4a" stroke-width="0.5"/>
<path d="M184.4 352.1 l1.5 2.8 l-3 0 Z" fill="#858585" stroke="#4a4a4a" stroke-width="0.5"/>
<path d="M176.9 351.5 l1.5 2.8 l-3 0 Z" fill="#858585" stroke="#4a4a4a" stroke-width="0.5"/>
<path d="M189.8 357.4 l1.5 2.8 l-3 0 Z" fill="#858585" stroke="#4a4a4a" stroke-width="0.5"/>
<path d="M200.0 357.4 l1.5 2.8 l-3 0 Z" fill="#858585" stroke="#4a4a4a" stroke-width="0.5"/>
<path d="M205.2 358.4 l1.5 2.8 l-3 0 Z" fill="#858585" stroke="#4a4a4a" stroke-width="0.5"/>
<path d="M186.0 359.0 l1.5 2.8 l-3 0 Z" fill="#858585" stroke="#4a4a4a" stroke-width="0.5"/>
<path d="M180.6 355.3 l1.5 2.8 l-3 0 Z" fill="#858585" stroke="#4a4a4a" stroke-width="0.5"/>
<path d="M177.5 358.4 l1.5 2.8 l-3 0 Z" fill="#858585" stroke="#4a4a4a" stroke-width="0.5"/>
<path d="M181.2 359.6 l1.5 2.8 l-3 0 Z" fill="#858585" stroke="#4a4a4a" stroke-width="0.5"/>
<path d="M176.2 362.1 l1.5 2.8 l-3 0 Z" fill="#858585" stroke="#4a4a4a" stroke-width="0.5"/>
<path d="M180.0 362.8 l1.5 2.8 l-3 0 Z" fill="#858585" stroke="#4a4a4a" stroke-width="0.5"/>
<path d="M192.9 363.6 l1.5 2.8 l-3 0 Z" fill="#858585" stroke="#4a4a4a" stroke-width="0.5"/>
<path d="M183.8 365.6 l1.5 2.8 l-3 0 Z" fill="#858585" stroke="#4a4a4a" stroke-width="0.5"/>
<path d="M182.2 367.8 l1.5 2.8 l-3 0 Z" fill="#858585" stroke="#4a4a4a" stroke-width="0.5"/>
<path d="M175.6 364.6 l1.5 2.8 l-3 0 Z" fill="#858585" stroke="#4a4a4a" stroke-width="0.5"/>
<path d="M151.3 354.9 l1.5 2.8 l-3 0 Z" fill="#858585" stroke="#4a4a4a" stroke-width="0.5"/>
<path d="M155.6 353.8 l1.5 2.8 l-3 0 Z" fill="#858585" stroke="#4a4a4a" stroke-width="0.5"/>
<path d="M155.3 363.6 l1.5 2.8 l-3 0 Z" fill="#858585" stroke="#4a4a4a" stroke-width="0.5"/>
<path d="M147.3 361.1 l1.5 2.8 l-3 0 Z" fill="#858585" stroke="#4a4a4a" stroke-width="0.5"/>
<path d="M161.3 358.1 l1.5 2.8 l-3 0 Z" fill="#858585" stroke="#4a4a4a" stroke-width="0.5"/>
<path d="M140.3 364.1 l1.5 2.8 l-3 0 Z" fill="#858585" stroke="#4a4a4a" stroke-width="0.5"/>
<path d="M170.7 355.2 l1.5 2.8 l-3 0 Z" fill="#858585" stroke="#4a4a4a" stroke-width="0.5"/>
<path d="M163.7 357.7 l1.5 2.8 l-3 0 Z" fill="#858585" stroke="#4a4a4a" stroke-width="0.5"/>
<path d="M169.9 362.0 l1.5 2.8 l-3 0 Z" fill="#858585" stroke="#4a4a4a" stroke-width="0.5"/>
<path d="M167.3 356.6 l1.5 2.8 l-3 0 Z" fill="#858585" stroke="#4a4a4a" stroke-width="0.5"/>
<path d="M164.9 362.8 l1.5 2.8 l-3 0 Z" fill="#858585" stroke="#4a4a4a" stroke-width="0.5"/>
<path d="M173.1 357.0 l1.5 2.8 l-3 0 Z" fill="#858585" stroke="#4a4a4a" stroke-width="0.5"/>
<path d="M162.0 360.4 l1.5 2.8 l-3 0 Z" fill="#858585" stroke="#4a4a4a" stroke-width="0.5"/>
<path d="M171.7 365.2 l1.5 2.8 l-3 0 Z" fill="#858585" stroke="#4a4a4a" stroke-width="0.5"/>
<path d="M164.7 353.7 l1.5 2.8 l-3 0 Z" fill="#858585" stroke="#4a4a4a" stroke-width="0.5"/>
<path d="M164.1 365.8 l1.5 2.8 l-3 0 Z" fill="#858585" stroke="#4a4a4a" stroke-width="0.5"/>
<path d="M149.7 357.9 l1.5 2.8 l-3 0 Z" fill="#858585" stroke="#4a4a4a" stroke-width="0.5"/>
<path d="M139.4 358.9 l1.5 2.8 l-3 0 Z" fill="#858585" stroke="#4a4a4a" stroke-width="0.5"/>
<path d="M172.9 353.9 l1.5 2.8 l-3 0 Z" fill="#858585" stroke="#4a4a4a" stroke-width="0.5"/>
<path d="M160.2 364.4 l1.5 2.8 l-3 0 Z" fill="#858585" stroke="#4a4a4a" stroke-width="0.5"/>
<path d="M152.7 364.4 l1.5 2.8 l-3 0 Z" fill="#858585" stroke="#4a4a4a" stroke-width="0.5"/>
<path d="M153.1 360.3 l1.5 2.8 l-3 0 Z" fill="#858585" stroke="#4a4a4a" stroke-width="0.5"/>
<path d="M165.8 359.6 l1.5 2.8 l-3 0 Z" fill="#858585" stroke="#4a4a4a" stroke-width="0.5"/>
<path d="M169.3 364.3 l1.5 2.8 l-3 0 Z" fill="#858585" stroke="#4a4a4a" stroke-width="0.5"/>
<path d="M154.0 358.1 l1.5 2.8 l-3 0 Z" fill="#858585" stroke="#4a4a4a" stroke-width="0.5"/>
<path d="M146.7 355.0 l1.5 2.8 l-3 0 Z" fill="#858585" stroke="#4a4a4a" stroke-width="0.5"/>
<path d="M173.0 360.9 l1.5 2.8 l-3 0 Z" fill="#858585" stroke="#4a4a4a" stroke-width="0.5"/>
<path d="M156.9 359.2 l1.5 2.8 l-3 0 Z" fill="#858585" stroke="#4a4a4a" stroke-width="0.5"/>
<path d="M160.0 353.3 l1.5 2.8 l-3 0 Z" fill="#858585" stroke="#4a4a4a" stroke-width="0.5"/>
<path d="M169.0 359.8 l1.5 2.8 l-3 0 Z" fill="#858585" stroke="#4a4a4a" stroke-width="0.5"/>
<path d="M158.9 357.5 l1.5 2.8 l-3 0 Z" fill="#858585" stroke="#4a4a4a" stroke-width="0.5"/>
<path d="M169.7 357.2 l1.5 2.8 l-3 0 Z" fill="#858585" stroke="#4a4a4a" stroke-width="0.5"/>
<path d="M174.7 359.4 l1.5 2.8 l-3 0 Z" fill="#858585" stroke="#4a4a4a" stroke-width="0.5"/>
<path d="M157.4 365.1 l1.5 2.8 l-3 0 Z" fill="#858585" stroke="#4a4a4a" stroke-width="0.5"/>
<path d="M144.6 362.2 l1.5 2.8 l-3 0 Z" fill="#858585" stroke="#4a4a4a" stroke-width="0.5"/>
<path d="M147.2 365.3 l1.5 2.8 l-3 0 Z" fill="#858585" stroke="#4a4a4a" stroke-width="0.5"/>
<path d="M167.0 353.2 l1.5 2.8 l-3 0 Z" fill="#858585" stroke="#4a4a4a" stroke-width="0.5"/>
<path d="M150.5 362.8 l1.5 2.8 l-3 0 Z" fill="#858585" stroke="#4a4a4a" stroke-width="0.5"/>
<path d="M158.3 355.2 l1.5 2.8 l-3 0 Z" fill="#858585" stroke="#4a4a4a" stroke-width="0.5"/>
<path d="M177.4 354.8 l1.5 2.8 l-3 0 Z" fill="#858585" stroke="#4a4a4a" stroke-width="0.5"/>
<path d="M142.6 363.8 l1.5 2.8 l-3 0 Z" fill="#858585" stroke="#4a4a4a" stroke-width="0.5"/>
<path d="M157.8 352.9 l1.5 2.8 l-3 0 Z" fill="#858585" stroke="#4a4a4a" stroke-width="0.5"/>
<path d="M157.4 361.8 l1.5 2.8 l-3 0 Z" fill="#858585" stroke="#4a4a4a" stroke-width="0.5"/>
<path d="M150.5 360.3 l1.5 2.8 l-3 0 Z" fill="#858585" stroke="#4a4a4a" stroke-width="0.5"/>
<path d="M156.3 356.4 l1.5 2.8 l-3 0 Z" fill="#858585" stroke="#4a4a4a" stroke-width="0.5"/>
<path d="M178.0 360.6 l1.5 2.8 l-3 0 Z" fill="#858585" stroke="#4a4a4a" stroke-width="0.5"/>
<path d="M175.5 356.1 l1.5 2.8 l-3 0 Z" fill="#858585" stroke="#4a4a4a" stroke-width="0.5"/>
<path d="M162.2 353.0 l1.5 2.8 l-3 0 Z" fill="#858585" stroke="#4a4a4a" stroke-width="0.5"/>
<path d="M150.1 365.3 l1.5 2.8 l-3 0 Z" fill="#858585" stroke="#4a4a4a" stroke-width="0.5"/>
<path d="M154.0 355.7 l1.5 2.8 l-3 0 Z" fill="#858585" stroke="#4a4a4a" stroke-width="0.5"/>
<path d="M167.4 365.9 l1.5 2.8 l-3 0 Z" fill="#858585" stroke="#4a4a4a" stroke-width="0.5"/>
<path d="M172.9 363.1 l1.5 2.8 l-3 0 Z" fill="#858585" stroke="#4a4a4a" stroke-width="0.5"/>
<path d="M147.7 358.9 l1.5 2.8 l-3 0 Z" fill="#858585" stroke="#4a4a4a" stroke-width="0.5"/>
<path d="M149.0 355.8 l1.5 2.8 l-3 0 Z" fill="#858585" stroke="#4a4a4a" stroke-width="0.5"/>
<path d="M161.8 355.4 l1.5 2.8 l-3 0 Z" fill="#858585" stroke="#4a4a4a" stroke-width="0.5"/>
<path d="M140.0 356.2 l1.5 2.8 l-3 0 Z" fill="#858585" stroke="#4a4a4a" stroke-width="0.5"/>
<path d="M148.4 363.5 l1.5 2.8 l-3 0 Z" fill="#858585" stroke="#4a4a4a" stroke-width="0.5"/>
<path d="M155.2 361.1 l1.5 2.8 l-3 0 Z" fill="#858585" stroke="#4a4a4a" stroke-width="0.5"/>
<path d="M167.7 362.6 l1.5 2.8 l-3 0 Z" fill="#858585" stroke="#4a4a4a" stroke-width="0.5"/>
<path d="M159.4 360.2 l1.5 2.8 l-3 0 Z" fill="#858585" stroke="#4a4a4a" stroke-width="0.5"/>
<path d="M169.2 353.6 l1.5 2.8 l-3 0 Z" fill="#858585" stroke="#4a4a4a" stroke-width="0.5"/>
<path d="M153.2 353.1 l1.5 2.8 l-3 0 Z" fill="#858585" stroke="#4a4a4a" stroke-width="0.5"/>
<path d="M151.8 357.1 l1.5 2.8 l-3 0 Z" fill="#858585" stroke="#4a4a4a" stroke-width="0.5"/>
<path d="M161.9 365.8 l1.5 2.8 l-3 0 Z" fill="#858585" stroke="#4a4a4a" stroke-width="0.5"/>
<path d="M177.8 365.1 l1.5 2.8 l-3 0 Z" fill="#858585" stroke="#4a4a4a" stroke-width="0.5"/>
<path d="M162.3 363.6 l1.5 2.8 l-3 0 Z" fill="#858585" stroke="#4a4a4a" stroke-width="0.5"/>
<path d="M171.3 359.1 l1.5 2.8 l-3 0 Z" fill="#858585" stroke="#4a4a4a" stroke-width="0.5"/>
<path d="M165.1 355.9 l1.5 2.8 l-3 0 Z" fill="#858585" stroke="#4a4a4a" stroke-width="0.5"/>
<path d="M145.4 359.9 l1.5 2.8 l-3 0 Z" fill="#858585" stroke="#4a4a4a" stroke-width="0.5"/>
<path d="M154.9 365.8 l1.5 2.8 l-3 0 Z" fill="#858585" stroke="#4a4a4a" stroke-width="0.5"/>
<path d="M150.4 352.9 l1.5 2.8 l-3 0 Z" fill="#858585" stroke="#4a4a4a" stroke-width="0.5"/>
<path d="M142.0 358.1 l1.5 2.8 l-3 0 Z" fill="#858585" stroke="#4a4a4a" stroke-width="0.5"/>
<path d="M175.1 353.9 l1.5 2.8 l-3 0 Z" fill="#858585" stroke="#4a4a4a" stroke-width="0.5"/>
<path d="M160.6 362.2 l1.5 2.8 l-3 0 Z" fill="#858585" stroke="#4a4a4a" stroke-width="0.5"/>
<path d="M173.8 365.9 l1.5 2.8 l-3 0 Z" fill="#858585" stroke="#4a4a4a" stroke-width="0.5"/>
<line x1="115.60" y1="359.75" x2="207.75" y2="356.25" stroke="#333" stroke-width="0.80" />
</svg></body></html>
